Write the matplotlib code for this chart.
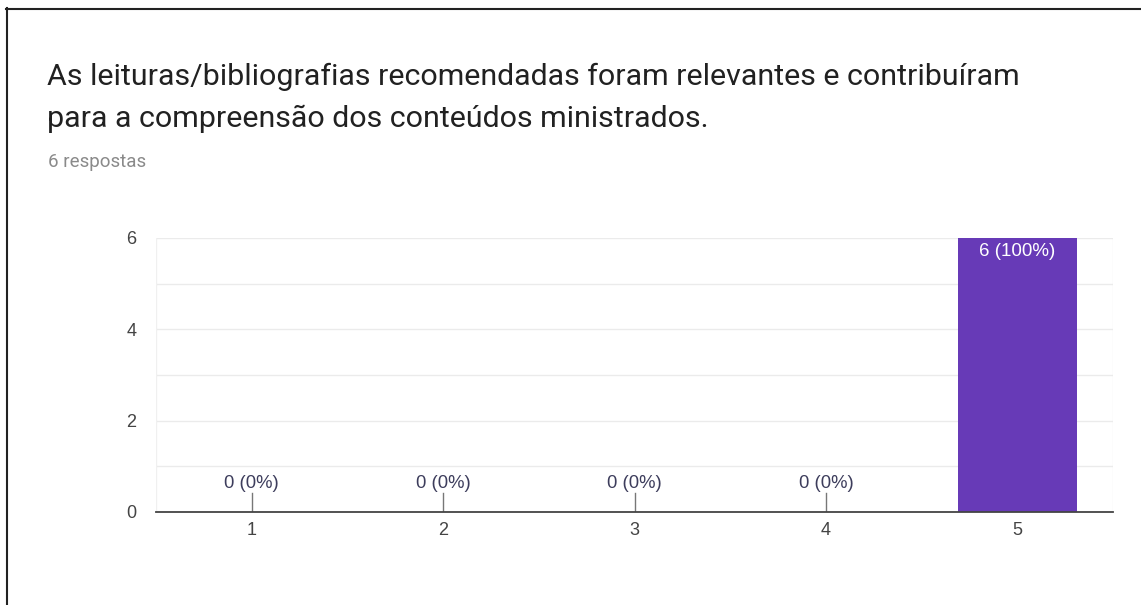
import matplotlib
matplotlib.use("Agg")
import matplotlib.pyplot as plt
from matplotlib.lines import Line2D

categories = ["1", "2", "3", "4", "5"]
counts = [0, 0, 0, 0, 6]
percents = ["0%", "0%", "0%", "0%", "100%"]
yticks = [0, 2, 4, 6]
title_lines = ["As leituras/bibliografias recomendadas foram relevantes e contribuíram",
               "para a compreensão dos conteúdos ministrados."]
subtitle = "6 respostas"

plt.rcParams['font.family'] = ['Roboto', 'DejaVu Sans']
ARIAL = ['Liberation Sans', 'DejaVu Sans']

W, H = 1141, 605
fig = plt.figure(figsize=(W / 100, H / 100), dpi=100)
fig.patch.set_facecolor("white")

# frame lines (left and top)
fig.add_artist(Line2D([6.5 / W, 6.5 / W], [0, 1 - 8 / H], color="#222222", lw=1.5, transform=fig.transFigure))
fig.add_artist(Line2D([6 / W, 1], [1 - 8.5 / H, 1 - 8.5 / H], color="#222222", lw=1.5, transform=fig.transFigure))

for i, line in enumerate(title_lines):
    fig.text(47 / W, 1 - (85 + 42 * i) / H, line, fontsize=21.9, color="#212121", va="baseline", ha="left")
fig.text(48 / W, 1 - 162 / H, subtitle, fontsize=13.5, color="#8a8a8a", va="center", ha="left")

left, right, top, bottom = 156, 1113, 238, 512
ax = fig.add_axes([left / W, 1 - bottom / H, (right - left) / W, (bottom - top) / H])
x = list(range(1, len(categories) + 1))
ax.bar(x, counts, width=0.62, color="#673ab7", zorder=3)
ax.set_xlim(0.5, len(categories) + 0.5)
ax.set_ylim(0, 6)
ax.set_xticks(x)
ax.set_xticklabels(categories, family=ARIAL)
ax.set_yticks(yticks)
ax.set_yticklabels([str(v) for v in yticks], family=ARIAL)
for v in range(0, 7):
    ax.axhline(v, color="#ebebeb", lw=1, zorder=1)
for s in ["top", "right", "left"]:
    ax.spines[s].set_visible(False)
ax.spines["bottom"].set_color("#444444")
ax.spines["bottom"].set_linewidth(1.3)
ax.spines["bottom"].set_zorder(4)
ax.axvline(0.5, color="#f0f0f0", lw=1, zorder=1)
ax.axvline(len(categories) + 0.5, color="#f0f0f0", lw=1, zorder=1)
ax.tick_params(axis="both", length=0, labelsize=13, colors="#444444")
ax.tick_params(axis="x", pad=7.5)
ax.tick_params(axis="y", pad=14)

for xi, c, p in zip(x, counts, percents):
    lab = f"{c} ({p})"
    if c == 0:
        ax.plot([xi, xi], [0, 0.41], color="#777777", lw=1, zorder=4)
        ax.text(xi, 0.44, lab, ha="center", va="bottom", fontsize=13.3, color="#3d3d5c", zorder=5, family=ARIAL)
    else:
        ax.text(xi, c - 0.1, lab, ha="center", va="top", fontsize=13.5, color="white", zorder=5, family=ARIAL)

fig.savefig("out.png", dpi=100, facecolor="white")
